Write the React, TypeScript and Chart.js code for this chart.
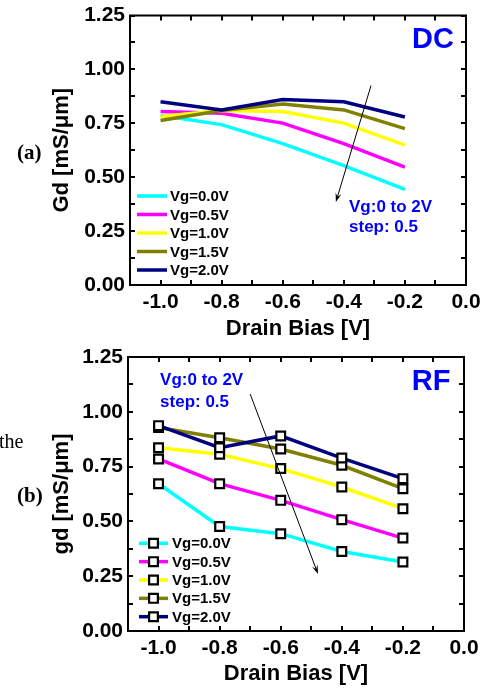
import React, { useEffect, useRef } from "react";
import { Chart, registerables } from "chart.js";

Chart.register(...registerables);

// ---------- data ----------
const DRAIN_BIAS = [-1.0, -0.8, -0.6, -0.4, -0.2];
const VG_LABELS = ["Vg=0.0V", "Vg=0.5V", "Vg=1.0V", "Vg=1.5V", "Vg=2.0V"];
const SERIES_COLORS = ["#00ffff", "#ff00ff", "#ffff00", "#808000", "#000080"];

const DC_VG00 = [0.786, 0.744, 0.656, 0.554, 0.443];
const DC_VG05 = [0.805, 0.797, 0.751, 0.656, 0.547];
const DC_VG10 = [0.782, 0.809, 0.805, 0.751, 0.649];
const DC_VG15 = [0.763, 0.809, 0.84, 0.812, 0.725];
const DC_VG20 = [0.85, 0.812, 0.86, 0.85, 0.779];

const RF_VG00 = [0.672, 0.477, 0.444, 0.363, 0.315];
const RF_VG05 = [0.785, 0.672, 0.596, 0.508, 0.424];
const RF_VG10 = [0.836, 0.806, 0.741, 0.657, 0.558];
const RF_VG15 = [0.928, 0.882, 0.83, 0.756, 0.649];
const RF_VG20 = [0.937, 0.836, 0.89, 0.789, 0.695];

const X_TICKS = [-1.0, -0.8, -0.6, -0.4, -0.2, 0.0];
const Y_TICKS = [0, 0.25, 0.5, 0.75, 1.0, 1.25];
const X_MIN = -1.1;
const X_MAX = 0.0;
const Y_MIN = 0;
const Y_MAX = 1.25;

const SANS = "'Liberation Sans', Arial, sans-serif";
const SERIF = "'Liberation Serif', 'Times New Roman', serif";
const BLUE = "#0000ff";

type Panel = {
  height: number;
  top: number;
  padTop: number;
  padRight: number;
  xAxisHeight: number;
  xTickPad: number;
  xTitlePad: number;
  yAxisWidth: number;
  yTitlePad: number;
  yTitle: string;
  series: number[][];
  markers: boolean;
  legend: { left: number; lineLen: number; textGap: number; firstAboveBottom: number; spacing: number };
  texts: { text: string; x: number; y: number; size: number; align: CanvasTextAlign }[];
  arrow: { x0: number; y0: number; x1: number; y1: number };
};

const DC_PANEL: Panel = {
  height: 340,
  top: 0,
  padTop: 12,
  padRight: 34,
  xAxisHeight: 55,
  xTickPad: 7,
  xTitlePad: 0,
  yAxisWidth: 130,
  yTitlePad: 51,
  yTitle: "Gd [mS/\u03bcm]",
  series: [DC_VG00, DC_VG05, DC_VG10, DC_VG15, DC_VG20],
  markers: false,
  legend: { left: 7, lineLen: 30, textGap: 3, firstAboveBottom: 89, spacing: 18.5 },
  texts: [
    { text: "DC", x: -0.108, y: 1.136, size: 29, align: "center" },
    { text: "Vg:0 to 2V", x: -0.383, y: 0.362, size: 17, align: "left" },
    { text: "step: 0.5", x: -0.383, y: 0.268, size: 17, align: "left" },
  ],
  arrow: { x0: -0.311, y0: 0.925, x1: -0.426, y1: 0.385 },
};

const RF_PANEL: Panel = {
  height: 350,
  top: 340,
  padTop: 17,
  padRight: 36,
  xAxisHeight: 59,
  xTickPad: 7,
  xTitlePad: 5,
  yAxisWidth: 128,
  yTitlePad: 51,
  yTitle: "gd [mS/\u03bcm]",
  series: [RF_VG00, RF_VG05, RF_VG10, RF_VG15, RF_VG20],
  markers: true,
  legend: { left: 11, lineLen: 29, textGap: 4, firstAboveBottom: 87.7, spacing: 18.35 },
  texts: [
    { text: "RF", x: -0.108, y: 1.136, size: 29, align: "center" },
    { text: "Vg:0 to 2V", x: -0.995, y: 1.145, size: 17, align: "left" },
    { text: "step: 0.5", x: -0.995, y: 1.045, size: 17, align: "left" },
  ],
  arrow: { x0: -0.7, y0: 1.081, x1: -0.478, y1: 0.26 },
};

const POINT_RADIUS = 6.2;
const POINT_BORDER = 2.2;
const LINE_WIDTH = 3.5;
const TICK_LEN = 5;

function drawSquare(ctx: CanvasRenderingContext2D, cx: number, cy: number) {
  const half = Math.SQRT1_2 * POINT_RADIUS;
  ctx.save();
  ctx.fillStyle = "#ffffff";
  ctx.strokeStyle = "#000000";
  ctx.lineWidth = POINT_BORDER;
  ctx.beginPath();
  ctx.rect(cx - half, cy - half, 2 * half, 2 * half);
  ctx.fill();
  ctx.stroke();
  ctx.restore();
}

function makeFramePlugin() {
  return {
    id: "frameTicks",
    afterDatasetsDraw(chart: any) {
      const { ctx, chartArea: a, scales } = chart;
      const xs = scales.x;
      const ys = scales.y;
      ctx.save();
      ctx.strokeStyle = "#000";
      ctx.lineWidth = 2;
      ctx.strokeRect(a.left, a.top, a.right - a.left, a.bottom - a.top);
      ctx.lineWidth = 2;
      ctx.beginPath();
      for (let i = 0; i <= 11; i++) {
        const v = X_MIN + i * 0.1;
        const px = Math.round(xs.getPixelForValue(v));
        ctx.moveTo(px, a.bottom);
        ctx.lineTo(px, a.bottom - TICK_LEN);
        ctx.moveTo(px, a.top);
        ctx.lineTo(px, a.top + TICK_LEN);
      }
      for (let i = 0; i <= 10; i++) {
        const v = Y_MIN + i * 0.125;
        const py = Math.round(ys.getPixelForValue(v));
        ctx.moveTo(a.left, py);
        ctx.lineTo(a.left + TICK_LEN, py);
        ctx.moveTo(a.right, py);
        ctx.lineTo(a.right - TICK_LEN, py);
      }
      ctx.stroke();
      ctx.restore();
    },
  };
}

function makeAnnotationPlugin(p: Panel) {
  return {
    id: "panelAnnotations",
    afterDraw(chart: any) {
      const { ctx, chartArea: a, scales } = chart;
      const xs = scales.x;
      const ys = scales.y;
      ctx.save();
      for (const t of p.texts) {
        ctx.font = `bold ${t.size}px ${SANS}`;
        ctx.fillStyle = BLUE;
        ctx.textAlign = t.align;
        ctx.textBaseline = "middle";
        ctx.fillText(t.text, xs.getPixelForValue(t.x), ys.getPixelForValue(t.y));
      }
      const x0 = xs.getPixelForValue(p.arrow.x0);
      const y0 = ys.getPixelForValue(p.arrow.y0);
      const x1 = xs.getPixelForValue(p.arrow.x1);
      const y1 = ys.getPixelForValue(p.arrow.y1);
      const ang = Math.atan2(y1 - y0, x1 - x0);
      const headLen = 9;
      const headW = 3;
      ctx.strokeStyle = "#000";
      ctx.lineWidth = 1;
      ctx.beginPath();
      ctx.moveTo(x0, y0);
      ctx.lineTo(x1 - Math.cos(ang) * headLen * 0.6, y1 - Math.sin(ang) * headLen * 0.6);
      ctx.stroke();
      ctx.fillStyle = "#000";
      ctx.beginPath();
      ctx.moveTo(x1, y1);
      ctx.lineTo(
        x1 - Math.cos(ang) * headLen - Math.sin(ang) * headW,
        y1 - Math.sin(ang) * headLen + Math.cos(ang) * headW
      );
      ctx.lineTo(x1 - Math.cos(ang) * headLen * 0.6, y1 - Math.sin(ang) * headLen * 0.6);
      ctx.lineTo(
        x1 - Math.cos(ang) * headLen + Math.sin(ang) * headW,
        y1 - Math.sin(ang) * headLen - Math.cos(ang) * headW
      );
      ctx.closePath();
      ctx.fill();

      const L = p.legend;
      chart.data.datasets.forEach((ds: any, i: number) => {
        const cy = a.bottom - L.firstAboveBottom + i * L.spacing;
        const lx0 = a.left + L.left;
        const lx1 = lx0 + L.lineLen;
        ctx.strokeStyle = ds.borderColor;
        ctx.lineWidth = LINE_WIDTH;
        ctx.lineCap = "butt";
        ctx.beginPath();
        ctx.moveTo(lx0, cy);
        ctx.lineTo(lx1, cy);
        ctx.stroke();
        if (p.markers) drawSquare(ctx, (lx0 + lx1) / 2, cy);
        ctx.font = `bold 15px ${SANS}`;
        ctx.fillStyle = "#000";
        ctx.textAlign = "left";
        ctx.textBaseline = "middle";
        ctx.fillText(ds.label, lx1 + L.textGap, cy + 1);
      });
      ctx.restore();
    },
  };
}

function buildConfig(p: Panel): any {
  const datasets = p.series.map((vals, i) => ({
    label: VG_LABELS[i],
    data: DRAIN_BIAS.map((x, j) => ({ x, y: vals[j] })),
    borderColor: SERIES_COLORS[i],
    backgroundColor: SERIES_COLORS[i],
    borderWidth: LINE_WIDTH,
    tension: 0,
    fill: false,
    order: -i,
    pointStyle: "rect",
    pointRadius: p.markers ? POINT_RADIUS : 0,
    pointBorderWidth: POINT_BORDER,
    pointBorderColor: "#000000",
    pointBackgroundColor: "#ffffff",
    pointHoverRadius: p.markers ? POINT_RADIUS : 0,
  }));

  return {
    type: "line",
    data: { datasets },
    options: {
      responsive: false,
      animation: false,
      devicePixelRatio: 1,
      events: [],
      layout: { padding: { top: p.padTop, right: p.padRight, left: 0, bottom: 0 } },
      plugins: { legend: { display: false }, tooltip: { enabled: false }, title: { display: false } },
      scales: {
        x: {
          type: "linear",
          min: X_MIN,
          max: X_MAX,
          grid: { display: false, drawTicks: false },
          border: { display: false },
          ticks: {
            color: "#000",
            font: { family: SANS, size: 21, weight: "bold", lineHeight: 1 },
            padding: p.xTickPad,
            maxRotation: 0,
            autoSkip: false,
            callback: (v: any) => Number(v).toFixed(1),
          },
          afterBuildTicks: (s: any) => {
            s.ticks = X_TICKS.map((value) => ({ value }));
          },
          afterFit: (s: any) => {
            s.height = p.xAxisHeight;
          },
          title: {
            display: true,
            text: "Drain Bias [V]",
            color: "#000",
            font: { family: SANS, size: 22, weight: "bold", lineHeight: 1 },
            padding: { top: 0, bottom: p.xTitlePad },
          },
        },
        y: {
          type: "linear",
          min: Y_MIN,
          max: Y_MAX,
          grid: { display: false, drawTicks: false },
          border: { display: false },
          ticks: {
            color: "#000",
            font: { family: SANS, size: 21, weight: "bold", lineHeight: 1 },
            padding: 5,
            autoSkip: false,
            callback: (v: any) => Number(v).toFixed(2),
          },
          afterBuildTicks: (s: any) => {
            s.ticks = Y_TICKS.map((value) => ({ value }));
          },
          afterFit: (s: any) => {
            s.width = p.yAxisWidth;
          },
          title: {
            display: true,
            text: p.yTitle,
            color: "#000",
            font: { family: SANS, size: 22, weight: "bold", lineHeight: 1 },
            padding: { top: p.yTitlePad, bottom: 0 },
          },
        },
      },
    },
    plugins: [makeFramePlugin(), makeAnnotationPlugin(p)],
  };
}

function PanelChart({ panel }: { panel: Panel }) {
  const ref = useRef<HTMLCanvasElement>(null);
  useEffect(() => {
    const chart = new Chart(ref.current as HTMLCanvasElement, buildConfig(panel));
    return () => chart.destroy();
  }, [panel]);
  return (
    <canvas
      ref={ref}
      width={500}
      height={panel.height}
      style={{ position: "absolute", left: 0, top: panel.top, width: 500, height: panel.height }}
    />
  );
}

const sideText = (top: number, left: number, text: string, bold: boolean, size: number) => (
  <div
    style={{
      position: "absolute",
      top,
      left,
      fontFamily: SERIF,
      fontSize: size,
      lineHeight: `${size}px`,
      fontWeight: bold ? "bold" : "normal",
      color: "#000",
      whiteSpace: "nowrap",
    }}
  >
    {text}
  </div>
);

export default function App() {
  return (
    <div
      style={{
        position: "absolute",
        left: 0,
        top: 0,
        width: 500,
        height: 690,
        background: "#ffffff",
        overflow: "hidden",
      }}
    >
      <PanelChart panel={DC_PANEL} />
      <PanelChart panel={RF_PANEL} />
      {sideText(142, 17, "(a)", true, 21)}
      {sideText(431, -1, "the", false, 20)}
      {sideText(485, 17, "(b)", true, 21)}
    </div>
  );
}
